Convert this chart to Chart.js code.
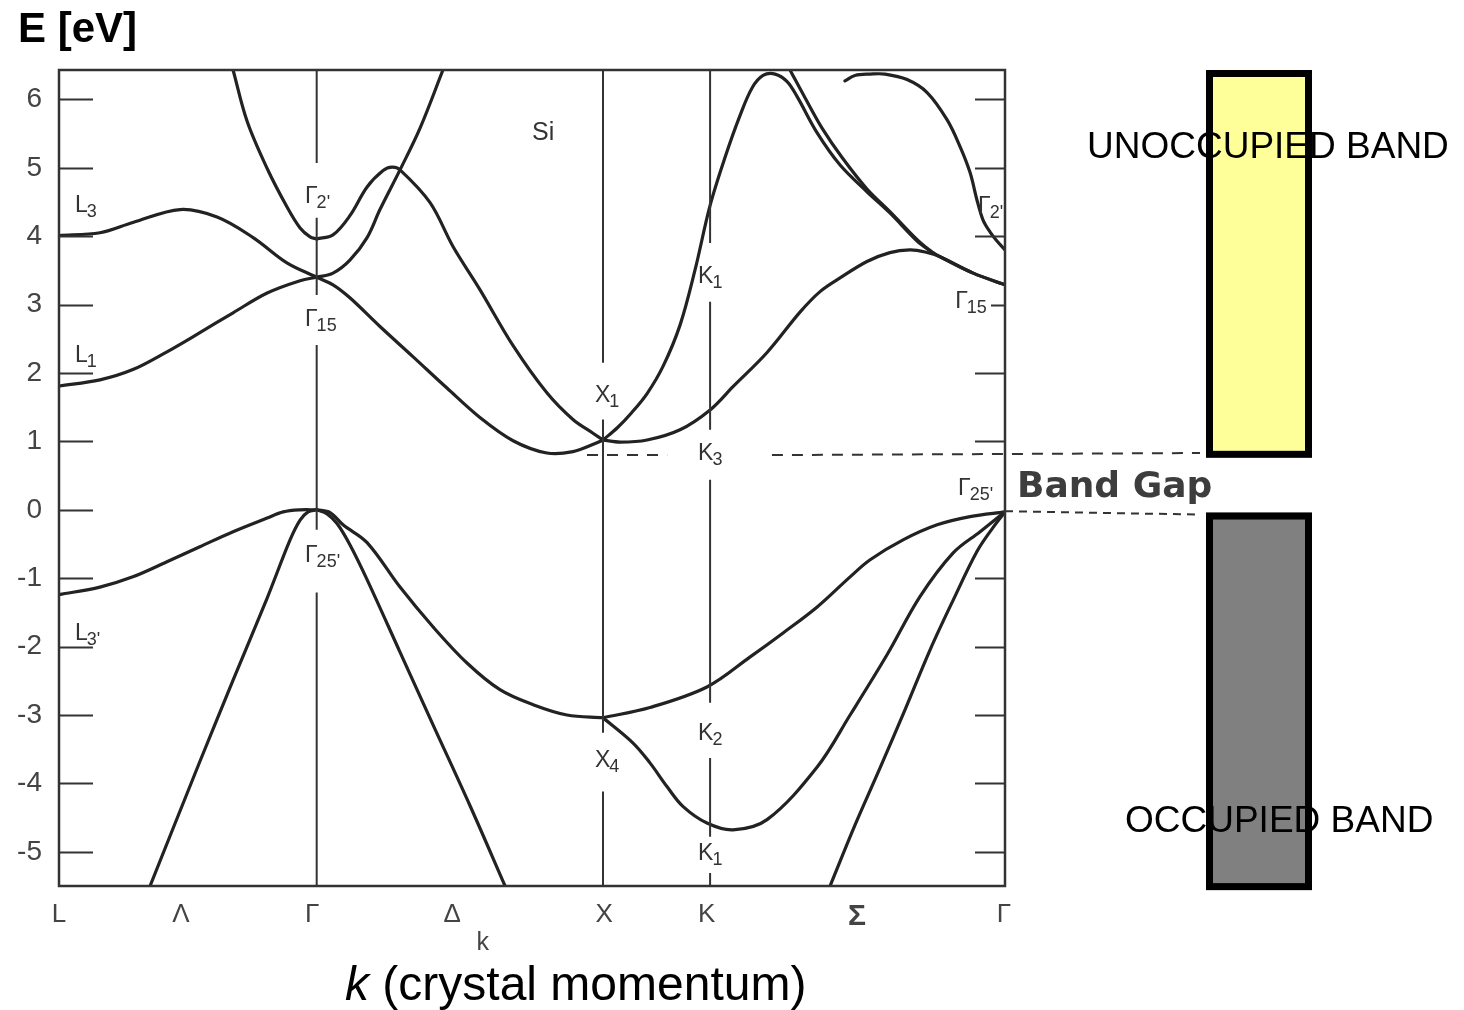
<!DOCTYPE html>
<html>
<head>
<meta charset="utf-8">
<script src="https://cdn.jsdelivr.net/npm/chart.js@4.4.0/dist/chart.umd.min.js"></script>
<style>
html,body{margin:0;padding:0;background:#fff;}
#wrap{position:relative;width:1464px;height:1010px;}
</style>
</head>
<body>
<div id="wrap"><canvas id="c"></canvas></div>
<script>
// ---------------- DATA ----------------
// symmetry points along the k path (units: Γ–X = 1)
const symNames = ['L', 'Γ', 'X', 'K', 'Γ'];
const symK = [0, 0.900, 1.900, 2.274, 3.304];

// x-axis tick labels and where they sit
const xTickLabels = ['L', 'Λ', 'Γ', 'Δ', 'X', 'K', 'Σ', 'Γ'];
const xTickK = [0, 0.426, 0.884, 1.373, 1.904, 2.262, 2.787, 3.300];

// y-axis (energy, eV)
const yTicks = [6, 5, 4, 3, 2, 1, 0, -1, -2, -3, -4, -5];
const eMin = -5.5, eMax = 6.43;

// conduction bands [k, E]
const cbL3 = [[0,4.01],[0.143,4.05],[0.258,4.20],[0.423,4.39],[0.552,4.28],[0.678,3.98],[0.796,3.61],[0.9,3.40]];
const cbL1 = [[0,1.81],[0.143,1.90],[0.258,2.05],[0.377,2.31],[0.492,2.59],[0.608,2.88],[0.727,3.17],[0.842,3.35],[0.9,3.40]];
const cbL2 = [[0.608,6.43],[0.657,5.68],[0.727,4.99],[0.796,4.43],[0.842,4.12],[0.877,3.99],[0.9,3.96]];
const cbG2X = [[0.9,3.96],[0.957,4.02],[1.016,4.30],[1.076,4.72],[1.132,4.96],[1.163,5.01],[1.191,4.97],[1.296,4.49],[1.376,3.85],[1.470,3.22],[1.586,2.40],[1.704,1.71],[1.795,1.32],[1.865,1.12],[1.9,1.02]];
const cbG15Up = [[0.9,3.40],[0.957,3.46],[1.016,3.65],[1.076,3.98],[1.121,4.39],[1.191,4.97],[1.261,5.58],[1.341,6.43]];
const cbG15X = [[0.9,3.40],[0.957,3.29],[1.016,3.10],[1.121,2.68],[1.236,2.24],[1.355,1.78],[1.470,1.35],[1.586,1.01],[1.704,0.83],[1.795,0.85],[1.879,0.98],[1.9,1.02]];
const cbXK3 = [[1.9,1.02],[1.960,0.99],[2.054,1.02],[2.169,1.17],[2.274,1.46],[2.354,1.80],[2.473,2.30],[2.588,2.89],[2.658,3.19],[2.728,3.39],[2.822,3.63],[2.902,3.76],[2.972,3.80],[3.025,3.77],[3.077,3.70],[3.193,3.46],[3.304,3.29]];
const cbXK1 = [[1.9,1.02],[1.95,1.20],[2.0,1.42],[2.054,1.70],[2.11,2.10],[2.169,2.70],[2.221,3.50],[2.274,4.45],[2.326,5.15],[2.379,5.77],[2.421,6.17],[2.459,6.35],[2.501,6.37],[2.543,6.26],[2.578,6.04],[2.648,5.51],[2.728,5.04],[2.822,4.65],[2.902,4.34],[2.997,3.93],[3.042,3.79],[3.077,3.70],[3.193,3.46],[3.304,3.29]];
const cbTop2 = [[2.553,6.43],[2.606,6.02],[2.665,5.58],[2.735,5.15],[2.822,4.69],[2.902,4.36],[2.997,3.95],[3.042,3.79]];
const cbG2R = [[2.745,6.27],[2.780,6.35],[2.833,6.37],[2.885,6.37],[2.962,6.29],[3.032,6.10],[3.102,5.70],[3.147,5.31],[3.182,4.93],[3.206,4.53],[3.227,4.24],[3.252,4.06],[3.276,3.93],[3.304,3.80]];

// valence bands [k, E]
const vbL3p = [[0,-1.24],[0.143,-1.13],[0.258,-0.98],[0.377,-0.76],[0.492,-0.54],[0.608,-0.32],[0.727,-0.12],[0.783,-0.03],[0.842,0],[0.9,0]];
const vbLG = [[0.318,-5.50],[0.492,-3.68],[0.608,-2.49],[0.727,-1.29],[0.807,-0.44],[0.842,-0.15],[0.870,-0.03],[0.9,0]];
const vbGX1 = [[0.9,0],[0.936,-0.06],[0.971,-0.20],[1.016,-0.51],[1.076,-1.02],[1.191,-2.08],[1.306,-3.14],[1.436,-4.33],[1.558,-5.50]];
const vbGX4 = [[0.9,0],[0.947,-0.04],[0.992,-0.22],[1.076,-0.48],[1.191,-1.13],[1.306,-1.71],[1.425,-2.24],[1.540,-2.63],[1.656,-2.85],[1.774,-3.00],[1.9,-3.04]];
const vbXK2 = [[1.9,-3.04],[2.064,-2.89],[2.263,-2.59],[2.414,-2.15],[2.529,-1.80],[2.648,-1.42],[2.763,-0.98],[2.833,-0.73],[2.948,-0.44],[3.067,-0.22],[3.182,-0.10],[3.304,-0.03]];
const vbXK1 = [[1.9,-3.04],[2.005,-3.41],[2.064,-3.70],[2.124,-4.05],[2.180,-4.34],[2.263,-4.58],[2.354,-4.68],[2.473,-4.53],[2.648,-3.76],[2.763,-3.00],[2.892,-2.12],[3.007,-1.27],[3.123,-0.63],[3.217,-0.32],[3.304,-0.03]];
const vbSG = [[2.693,-5.50],[2.780,-4.61],[2.868,-3.77],[2.955,-2.92],[3.042,-2.05],[3.123,-1.32],[3.206,-0.61],[3.262,-0.26],[3.304,-0.03]];

// vertical symmetry lines: visible energy spans (gaps leave room for labels)
const vLineGamma = [[6.43,5.07],[4.27,3.14],[2.41,-0.29],[-1.21,-5.5]];
const vLineX = [[6.43,2.15],[1.32,-3.26],[-4.12,-5.5]];
const vLineK = [[6.43,3.90],[3.04,1.17],[0.44,-2.82],[-3.63,-4.78],[-5.31,-5.5]];

// band edges (dashed guides) and band blocks
const cbmGuide = [[1.844,0.80],[2.124,0.80],null,[2.49,0.80],[3.985,0.83]];
const vbmGuide = [[3.304,-0.02],[3.985,-0.07]];
const unoccupiedBand = [0.76, 6.43];
const occupiedBand = [-5.56, -0.04];

// point labels: [main, subscript, k, E]
const pointLabels = [
  ['L','3',0.056,4.36], ['L','1',0.056,2.16], ['L',"3'",0.056,-1.90],
  ['Γ',"2'",0.859,4.49], ['Γ','15',0.859,2.68], ['Γ',"25'",0.859,-0.77],
  ['X','1',1.872,1.58], ['K','1',2.232,3.32], ['K','3',2.232,0.73],
  ['X','4',1.872,-3.76], ['K','2',2.232,-3.36], ['K','1',2.232,-5.12],
  ['Γ',"2'",3.210,4.34], ['Γ','15',3.130,2.95], ['Γ',"25'",3.140,0.22]
];

// ---------------- BUILD ----------------
const FONT = '"Liberation Sans", Arial, sans-serif';
const LINE = '#222';
const toPts = arr => arr.map((p, i) => p === null ? {x: arr[i-1][0], y: null} : {x: p[0], y: p[1]});
const bandDs = arr => ({data: toPts(arr), showLine: true, pointRadius: 0, borderColor: LINE, borderWidth: 3.2,
  fill: false, tension: 0.35, borderJoinStyle: 'round', borderCapStyle: 'round'});
const vLineDs = (k, spans) => {
  const d = [];
  spans.forEach(s => { d.push({x:k,y:s[0]}, {x:k,y:s[1]}, {x:k,y:null}); });
  return {data: d, showLine: true, pointRadius: 0, borderColor: '#333', borderWidth: 2, tension: 0, spanGaps: false};
};
const dashDs = (arr, dash) => ({data: toPts(arr), showLine: true, pointRadius: 0, borderColor: '#333',
  borderWidth: 2, borderDash: dash, tension: 0, spanGaps: false, clip: false});

const datasets = [
  vLineDs(symK[1], vLineGamma), vLineDs(symK[2], vLineX), vLineDs(symK[3], vLineK),
  dashDs(cbmGuide, [11, 9]), dashDs(vbmGuide, [8, 6]),
  ...[cbL3, cbL1, cbL2, cbG2X, cbG15Up, cbG15X, cbXK3, cbXK1, cbTop2, cbG2R,
      vbL3p, vbLG, vbGX1, vbGX4, vbXK2, vbXK1, vbSG].map(bandDs)
];

const decor = {
  id: 'decor',
  afterDatasetsDraw(chart) {
    const {ctx, chartArea: a, scales: {x, y}} = chart;
    ctx.save();
    // inner ticks
    ctx.strokeStyle = '#333'; ctx.lineWidth = 2;
    yTicks.forEach(v => {
      const py = Math.round(y.getPixelForValue(v)) + 0.5;
      ctx.beginPath(); ctx.moveTo(a.left, py); ctx.lineTo(a.left + 34, py);
      if (v !== 0) { ctx.moveTo(a.right - (v === 3 ? 14 : 30), py); ctx.lineTo(a.right, py); }
      ctx.stroke();
    });
    // frame
    ctx.strokeStyle = '#333'; ctx.lineWidth = 2.5;
    ctx.strokeRect(a.left, a.top, a.right - a.left, a.bottom - a.top);
    // point labels
    ctx.fillStyle = '#333'; ctx.textBaseline = 'alphabetic'; ctx.textAlign = 'left';
    pointLabels.forEach(([m, s, k, e]) => {
      const px = x.getPixelForValue(k), py = y.getPixelForValue(e);
      ctx.font = '23px ' + FONT; ctx.fillText(m, px, py);
      const w = ctx.measureText(m).width;
      ctx.font = '18px ' + FONT; ctx.fillText(s, px + w - 1, py + 5);
    });
    ctx.font = '25px ' + FONT;
    ctx.fillText('Si', x.getPixelForValue(1.652), y.getPixelForValue(5.41));
    ctx.restore();
  },
  afterDraw(chart) {
    const {ctx, chartArea: a, scales: {x, y}} = chart;
    ctx.save();
    // band blocks
    const blk = (band, fill) => {
      const top = y.getPixelForValue(band[1]), bot = y.getPixelForValue(band[0]);
      const l = a.right + 201, r = a.right + 307, lw = 7;
      ctx.fillStyle = fill; ctx.fillRect(l, top, r - l, bot - top);
      ctx.strokeStyle = '#000'; ctx.lineWidth = lw;
      ctx.strokeRect(l + lw/2, top + lw/2, r - l - lw, bot - top - lw);
    };
    blk(unoccupiedBand, '#ffff99');
    blk(occupiedBand, '#808080');
    // texts
    ctx.fillStyle = '#000'; ctx.textAlign = 'left'; ctx.textBaseline = 'alphabetic';
    ctx.font = '37px ' + FONT;
    ctx.fillText('UNOCCUPIED BAND', a.right + 82, y.getPixelForValue(5.15));
    ctx.fillText('OCCUPIED BAND', a.right + 120, y.getPixelForValue(-4.71));
    ctx.fillStyle = '#3d3d3d';
    ctx.font = 'bold 36px "DejaVu Sans", sans-serif';
    ctx.fillText('Band Gap', a.right + 12, y.getPixelForValue(0.19));
    // axis titles
    ctx.fillStyle = '#000';
    ctx.font = 'bold 42px ' + FONT;
    ctx.fillText('E [eV]', 18, a.top - 28);
    const tx = a.left + 286, ty = a.bottom + 114;
    ctx.font = 'italic 48px ' + FONT;
    ctx.fillText('k', tx, ty);
    const kw = ctx.measureText('k').width;
    ctx.font = '48px ' + FONT;
    ctx.fillText(' (crystal momentum)', tx + kw, ty);
    // small k under Δ
    ctx.fillStyle = '#444'; ctx.font = '25px ' + FONT;
    ctx.fillText('k', x.getPixelForValue(1.458), a.bottom + 64);
    ctx.restore();
  }
};

new Chart(document.getElementById('c'), {
  type: 'scatter',
  data: {datasets},
  options: {
    responsive: true, maintainAspectRatio: false, animation: false, events: [],
    layout: {padding: {top: 70, right: 459, bottom: 0, left: 0}},
    plugins: {legend: {display: false}, tooltip: {enabled: false}},
    scales: {
      x: {
        type: 'linear', min: symK[0], max: symK[4],
        afterFit: s => { s.height = 124; },
        afterBuildTicks: s => { s.ticks = xTickK.map(v => ({value: v})); },
        grid: {display: false, drawTicks: false}, border: {display: false},
        ticks: {
          autoSkip: false, maxRotation: 0, padding: 13, color: '#444',
          font: c => (c.tick && c.tick.label === 'Σ') ? {family: FONT, size: 30, weight: 'bold'} : {family: FONT, size: 26},
          callback: (v, i) => xTickLabels[i]
        }
      },
      y: {
        type: 'linear', min: eMin, max: eMax,
        afterFit: s => { s.width = 59; },
        afterBuildTicks: s => { s.ticks = yTicks.map(v => ({value: v})); },
        grid: {display: false, drawTicks: false}, border: {display: false},
        ticks: {padding: 17, color: '#444', font: {family: FONT, size: 28}, callback: v => String(v)}
      }
    }
  },
  plugins: [decor]
});
</script>
</body>
</html>
